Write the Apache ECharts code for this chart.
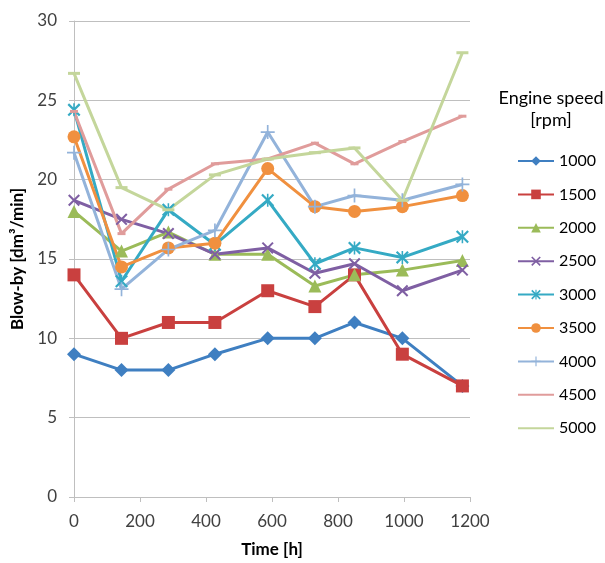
<!DOCTYPE html>
<html>
<head>
<meta charset="utf-8">
<script src="https://cdn.jsdelivr.net/npm/echarts@6/dist/echarts.min.js"></script>
<style>
  html, body { margin: 0; padding: 0; background: #fff; }
  #main { width: 605px; height: 563px; }
</style>
</head>
<body>
<div id="main"></div>
<script>
// time of each measurement [h]
const hours = [0, 144, 286, 427, 587, 730, 850, 995, 1177];

// blow-by per engine speed [dm3/min]
const rpm1000 = [9, 8, 8, 9, 10, 10, 11, 10, 7];
const rpm1500 = [14, 10, 11, 11, 13, 12, 14, 9, 7];
const rpm2000 = [18, 15.5, 16.7, 15.3, 15.3, 13.3, 14, 14.3, 14.9];
const rpm2500 = [18.7, 17.5, 16.6, 15.3, 15.7, 14.1, 14.7, 13, 14.3];
const rpm3000 = [24.4, 13.6, 18.1, 15.9, 18.7, 14.7, 15.7, 15.1, 16.4];
const rpm3500 = [22.7, 14.5, 15.7, 16, 20.7, 18.3, 18, 18.3, 19];
const rpm4000 = [21.7, 13.1, 15.6, 16.8, 23, 18.3, 19, 18.7, 19.7];
const rpm4500 = [24.3, 16.6, 19.4, 21, 21.3, 22.3, 21, 22.4, 24];
const rpm5000 = [26.7, 19.5, 18.1, 20.3, 21.3, 21.7, 22, 18.7, 28];

const yTicks = [0, 5, 10, 15, 20, 25, 30];

// marker shapes (Excel style)
const X_MARK = 'path://M0,1.2 L1.2,0 L10,8.8 L8.8,10 Z M8.8,0 L10,1.2 L1.2,10 L0,8.8 Z';
const STAR_MARK = 'path://M0,1.2 L1.2,0 L10,8.8 L8.8,10 Z M8.8,0 L10,1.2 L1.2,10 L0,8.8 Z M4.4,0 L5.6,0 L5.6,10 L4.4,10 Z';
const PLUS_MARK = 'path://M4.4,0 L5.6,0 L5.6,10 L4.4,10 Z M0,4.4 L10,4.4 L10,5.6 L0,5.6 Z';
const DASH_MARK = 'path://M0,0 L10,0 L10,10 L0,10 Z';

const font = 'Lato, "Open Sans", sans-serif';

function mk(name, values, color, symbol, size) {
  return {
    name: name,
    type: 'line',
    data: hours.map((h, i) => [h, values[i]]),
    symbol: symbol,
    symbolSize: size,
    showAllSymbol: true,
    lineStyle: { color: color, width: 3 },
    itemStyle: { color: color },
    emphasis: { disabled: true }
  };
}

const series = [
  mk('1000', rpm1000, '#3f7fc1', 'diamond', 14),
  mk('1500', rpm1500, '#c9403f', 'rect', 13),
  mk('2000', rpm2000, '#9bbb59', 'triangle', 13),
  mk('2500', rpm2500, '#7f5fa3', X_MARK, 12),
  mk('3000', rpm3000, '#35aac4', STAR_MARK, 13),
  mk('3500', rpm3500, '#f0903f', 'circle', 13),
  mk('4000', rpm4000, '#93b3da', PLUS_MARK, 14),
  mk('4500', rpm4500, '#e09c9b', DASH_MARK, [8, 3]),
  mk('5000', rpm5000, '#c4d69b', DASH_MARK, [12, 3])
];

// the dash markers vanish into the line in the legend
const legendData = series.map(s =>
  (s.name === '4500' || s.name === '5000') ? { name: s.name, itemStyle: { opacity: 0 } } : { name: s.name });

const myChart = echarts.init(document.getElementById('main'));
const option = {
  animation: false,
  grid: { left: 74, right: 135, top: 21, bottom: 63 },
  xAxis: {
    type: 'value',
    min: 0,
    max: 1200,
    interval: 200,
    name: 'Time [h]',
    nameLocation: 'middle',
    nameGap: 44,
    nameTextStyle: { fontFamily: font, fontWeight: 'bold', fontSize: 17, color: '#000' },
    axisLine: { show: true, lineStyle: { color: '#bfbfbf', width: 1 } },
    axisTick: { show: true, length: 5, lineStyle: { color: '#bfbfbf' } },
    axisLabel: { fontFamily: font, fontSize: 17, color: '#404040', margin: 16, formatter: v => String(v) },
    splitLine: { show: false }
  },
  yAxis: {
    type: 'value',
    min: yTicks[0],
    max: yTicks[yTicks.length - 1],
    interval: 5,
    name: 'Blow-by [dm³/min]',
    nameLocation: 'middle',
    nameGap: 44,
    nameTextStyle: { fontFamily: font, fontWeight: 'bold', fontSize: 17, color: '#000' },
    axisLine: { show: true, lineStyle: { color: '#bfbfbf', width: 1 } },
    axisTick: { show: true, length: 5, lineStyle: { color: '#bfbfbf' } },
    axisLabel: { fontFamily: font, fontSize: 17, color: '#404040', margin: 17 },
    splitLine: { show: true, lineStyle: { color: '#bfbfbf', width: 1 } }
  },
  legend: {
    orient: 'vertical',
    left: 517,
    top: 153,
    padding: 0,
    itemWidth: 36,
    itemHeight: 12,
    itemGap: 17.4,
    textStyle: { fontFamily: font, fontSize: 16, color: '#000' },
    data: legendData
  },
  graphic: [
    {
      type: 'text',
      x: 551,
      y: 98,
      style: { text: 'Engine speed', font: '18px ' + font, fill: '#000', align: 'center', verticalAlign: 'middle' }
    },
    {
      type: 'text',
      x: 551,
      y: 120,
      style: { text: '[rpm]', font: '18px ' + font, fill: '#000', align: 'center', verticalAlign: 'middle' }
    }
  ],
  series: series
};
myChart.setOption(option);
</script>
</body>
</html>
